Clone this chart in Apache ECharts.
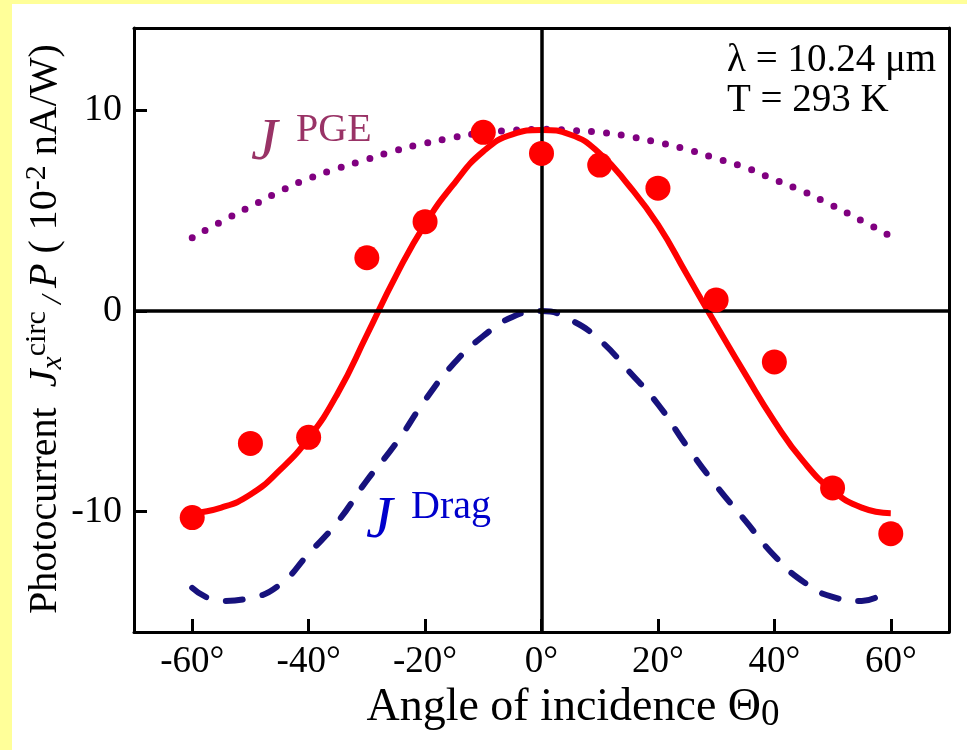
<!DOCTYPE html>
<html>
<head>
<meta charset="utf-8">
<title>Photocurrent vs angle of incidence</title>
<script src="https://cdn.jsdelivr.net/npm/echarts@6/dist/echarts.min.js"></script>
<style>
  html, body { margin: 0; padding: 0; background: #fff; }
  #chart { width: 967px; height: 750px; }
</style>
</head>
<body>
<div id="chart"></div>
<script>
// angles used for the three curves (degrees)
var angles = [-60, -55, -50, -45, -40, -35, -30, -25, -20, -15, -10, -5, 0,
  5, 10, 15, 20, 25, 30, 35, 40, 45, 50, 55, 60]
// fitted total photocurrent (red solid)
var fitValues = [-10.08, -9.8, -9.15, -7.95, -6.34, -4.1, -1.2, 1.75, 4.33, 6.35, 7.95, 8.8, 9.02,
  8.78, 7.85, 6.25, 4.3, 1.8, -0.7, -3.15, -5.5, -7.5, -8.95, -9.8, -10.08]
// J^PGE contribution (purple dotted)
var pgeValues = [3.65, 4.45, 5.2, 5.95, 6.6, 7.1, 7.55, 8.0, 8.35, 8.65, 8.88, 9.0, 9.05,
  9.0, 8.9, 8.7, 8.4, 8.05, 7.6, 7.15, 6.55, 5.95, 5.25, 4.5, 3.72]
// J^Drag contribution (navy dashed)
var dragValues = [-13.8, -14.45, -14.3, -13.65, -12.1, -10.5, -8.45, -6.6, -4.45, -2.6, -1.25, -0.3, 0,
  -0.45, -1.45, -3.0, -4.65, -6.75, -8.7, -10.45, -12.2, -13.5, -14.25, -14.45, -13.8]
// measured points (red dots)
var dotAngles = [-60, -50, -40, -30, -20, -10, 0, 10, 20, 30, 40, 50, 60]
var dotValues = [-10.3, -6.6, -6.3, 2.65, 4.45, 8.9, 7.85, 7.27, 6.12, 0.55, -2.54, -8.82, -11.1]
var xTicks = [-60, -40, -20, 0, 20, 40, 60]
var yTicks = [-10, 0, 10]

var xMin = -70, xMax = 70, yMin = -16, yMax = 14.1
var serif = '"Liberation Serif", "Times New Roman", serif'

function pairs(xs, ys) {
  var out = []
  for (var i = 0; i < xs.length; i++) {
    out.push([xs[i], ys[i]])
  }
  return out
}

var frameLine = { show: true, onZero: false, lineStyle: { color: '#000', width: 3 } }

var chart = echarts.init(document.getElementById('chart'))
chart.setOption({
  animation: false,
  backgroundColor: '#fff',
  grid: {
    left: 134,
    right: 18,
    top: 28,
    bottom: 118
  },
  xAxis: [{
    type: 'value',
    position: 'bottom',
    min: xMin,
    max: xMax,
    axisLine: frameLine,
    splitLine: { show: false },
    axisTick: {
      show: true,
      inside: true,
      length: 13,
      customValues: xTicks,
      lineStyle: { color: '#000', width: 3 }
    },
    axisLabel: {
      customValues: xTicks,
      margin: 12,
      fontSize: 37,
      fontFamily: serif,
      color: '#000',
      formatter: function(v) { return v + '°' }
    }
  }, {
    // top edge of the frame
    type: 'value',
    position: 'top',
    min: xMin,
    max: xMax,
    axisLine: frameLine,
    splitLine: { show: false },
    axisTick: { show: false },
    axisLabel: { show: false }
  }],
  yAxis: [{
    type: 'value',
    position: 'left',
    min: yMin,
    max: yMax,
    axisLine: frameLine,
    splitLine: { show: false },
    axisTick: {
      show: true,
      inside: true,
      length: 13,
      customValues: yTicks,
      lineStyle: { color: '#000', width: 3 }
    },
    axisLabel: {
      customValues: yTicks,
      margin: 12,
      fontSize: 38,
      fontFamily: serif,
      color: '#000'
    }
  }, {
    // right edge of the frame
    type: 'value',
    position: 'right',
    min: yMin,
    max: yMax,
    axisLine: frameLine,
    splitLine: { show: false },
    axisTick: { show: false },
    axisLabel: { show: false }
  }],
  graphic: [
    // yellow page edge
    { type: 'rect', shape: { x: 0, y: 0, width: 12, height: 750 }, style: { fill: '#ffff99' }, silent: true },
    { type: 'rect', shape: { x: 0, y: 0, width: 967, height: 4 }, style: { fill: '#ffff99' }, silent: true },
    {
      type: 'text', x: 727, y: 61,
      style: { text: 'λ = 10.24 μm', font: '39px ' + serif, fill: '#000', textVerticalAlign: 'middle' }
    },
    {
      type: 'text', x: 727, y: 101,
      style: { text: 'T = 293 K', font: '39px ' + serif, fill: '#000', textVerticalAlign: 'middle' }
    },
    {
      type: 'text', x: 251, y: 143,
      style: { text: 'J', font: 'italic 60px ' + serif, fill: '#993366', textVerticalAlign: 'middle' }
    },
    {
      type: 'text', x: 296, y: 130,
      style: { text: 'PGE', font: '40px ' + serif, fill: '#993366', textVerticalAlign: 'middle' }
    },
    {
      type: 'text', x: 366, y: 521,
      style: { text: 'J', font: 'italic 60px ' + serif, fill: '#0000cc', textVerticalAlign: 'middle' }
    },
    {
      type: 'text', x: 411, y: 507,
      style: { text: 'Drag', font: '40px ' + serif, fill: '#0000cc', textVerticalAlign: 'middle' }
    },
    {
      type: 'text', x: 573, y: 708,
      style: {
        text: '{n|Angle of incidence Θ}{sub|0}',
        textAlign: 'center',
        textVerticalAlign: 'middle',
        fill: '#000',
        rich: {
          n: { fontSize: 46, fontFamily: serif, lineHeight: 52, color: '#000' },
          sub: { fontSize: 37, fontFamily: serif, lineHeight: 26, verticalAlign: 'bottom', color: '#000' }
        }
      }
    },
    {
      type: 'text', x: 45, y: 329, rotation: Math.PI / 2,
      style: {
        text: '{n|Photocurrent  }{i|J}{sub|x}{sup|circ}{sub| / }{i|P}{n| ( 10}{sup|-2}{n| nA/W)}',
        textAlign: 'center',
        textVerticalAlign: 'middle',
        fill: '#000',
        rich: {
          n: { fontSize: 40, fontFamily: serif, lineHeight: 46, color: '#000' },
          i: { fontSize: 40, fontFamily: serif, fontStyle: 'italic', lineHeight: 46, color: '#000' },
          sup: { fontSize: 30, fontFamily: serif, lineHeight: 22, verticalAlign: 'top', color: '#000' },
          sub: { fontSize: 30, fontFamily: serif, fontStyle: 'italic', lineHeight: 22, verticalAlign: 'bottom', color: '#000' }
        }
      }
    }
  ],
  series: [
    {
      // zero lines through the plot
      name: 'axes',
      type: 'line',
      data: [],
      z: 1,
      markLine: {
        silent: true,
        symbol: 'none',
        label: { show: false },
        lineStyle: { color: '#000', width: 3.5, type: 'solid' },
        data: [{ xAxis: 0 }, { yAxis: 0 }]
      }
    },
    {
      name: 'PGE',
      type: 'line',
      data: pairs(angles, pgeValues),
      smooth: 0.5,
      showSymbol: false,
      z: 2,
      lineStyle: { color: '#800080', width: 7, type: [0, 15], cap: 'round' }
    },
    {
      name: 'Drag',
      type: 'line',
      data: pairs(angles, dragValues),
      smooth: 0.5,
      showSymbol: false,
      z: 3,
      lineStyle: { color: '#17127d', width: 6, type: [17, 20], cap: 'round' }
    },
    {
      name: 'fit',
      type: 'line',
      data: pairs(angles, fitValues),
      smooth: 0.5,
      showSymbol: false,
      z: 4,
      lineStyle: { color: '#ff0000', width: 6 }
    },
    {
      name: 'measured',
      type: 'scatter',
      data: pairs(dotAngles, dotValues),
      symbolSize: 25,
      z: 5,
      itemStyle: { color: '#ff0000', opacity: 1 }
    }
  ]
})
</script>
</body>
</html>
